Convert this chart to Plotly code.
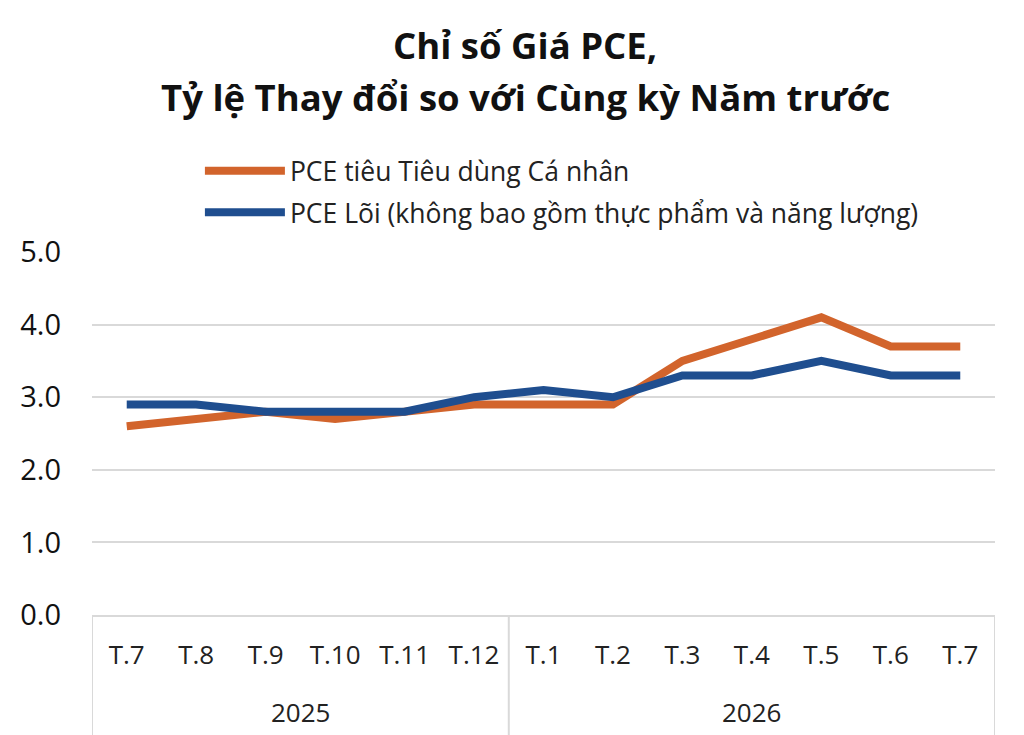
import plotly.graph_objects as go

months = ["T.7", "T.8", "T.9", "T.10", "T.11", "T.12",
          "T.1", "T.2", "T.3", "T.4", "T.5", "T.6", "T.7"]
years = ["2025", "2026"]
year_sizes = [6, 7]
pce = [2.6, 2.7, 2.8, 2.7, 2.8, 2.9, 2.9, 2.9, 3.5, 3.8, 4.1, 3.7, 3.7]
core_pce = [2.9, 2.9, 2.8, 2.8, 2.8, 3.0, 3.1, 3.0, 3.3, 3.3, 3.5, 3.3, 3.3]
y_ticks = [0, 1, 2, 3, 4, 5]

font = "Open Sans"
grid = "#d9d9d9"
xs = list(range(len(months)))

fig = go.Figure()
fig.add_trace(go.Scatter(x=xs, y=pce, mode="lines", legendgroup="a",
                         name="PCE tiêu Tiêu dùng Cá nhân",
                         line=dict(color="#D2642C", width=8)))
fig.add_trace(go.Scatter(x=xs, y=core_pce, mode="lines", legendgroup="b",
                         name="PCE Lõi (không bao gồm thực phẩm và năng lượng)",
                         line=dict(color="#1F4E8F", width=8)))

# two-line title
for txt, yy in [("Chỉ số Giá PCE,", 1.570), ("Tỷ lệ Thay đổi so với Cùng kỳ Năm trước", 1.427)]:
    fig.add_annotation(x=0.48, y=yy, xref="paper", yref="paper", xanchor="center",
                       yanchor="middle", showarrow=False, text="<b>" + txt + "</b>",
                       font=dict(size=36.5, family=font, color="#111111"))

# year group labels and dividers under the month axis
start = 0
bounds = [-0.5]
for yr, n in zip(years, year_sizes):
    fig.add_annotation(x=start + (n - 1) / 2, y=0, xref="x", yref="paper",
                       yshift=-117, text=yr, showarrow=False,
                       font=dict(size=26, family=font, color="#222222"))
    start += n
    bounds.append(start - 0.5)
for b in bounds:
    fig.add_shape(type="line", x0=b, x1=b, xref="x", y0=0, y1=-0.36, yref="paper",
                  line=dict(color=grid, width=2))

fig.update_layout(
    width=1024, height=735,
    margin=dict(l=84, r=37, t=244, b=128, autoexpand=False),
    paper_bgcolor="white", plot_bgcolor="white",
    font=dict(family=font, color="#111111"),
    legend=dict(x=0.1195, y=1.289, xanchor="left", yanchor="top",
                font=dict(size=26.5, family=font, color="#222222"),
                bgcolor="rgba(0,0,0,0)", traceorder="grouped", tracegroupgap=4,
                itemwidth=80),
    showlegend=True,
)
fig.update_xaxes(range=[-0.5, len(months) - 0.5], tickvals=xs, ticktext=months,
                 showgrid=False, zeroline=False, automargin=False,
                 showline=True, linecolor=grid, linewidth=2, ticks="",
                 tickfont=dict(size=26, family=font, color="#222222"),
                 ticklabelstandoff=16)
fig.update_yaxes(range=[0, 5], tickvals=y_ticks, tickformat=".1f",
                 showgrid=True, gridcolor=grid, gridwidth=2, automargin=False,
                 zeroline=False, showline=False, ticks="",
                 tickfont=dict(size=29, family=font, color="#111111"),
                 ticklabelstandoff=30)

fig.write_html("out.html")
